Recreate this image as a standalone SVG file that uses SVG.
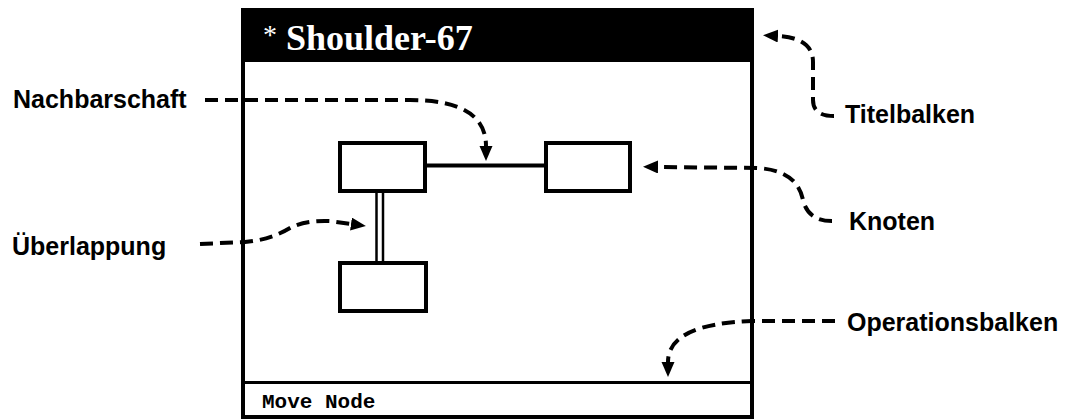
<svg xmlns="http://www.w3.org/2000/svg" width="1067" height="420" viewBox="0 0 1067 420">
  <style>
    .frame { fill: none; stroke: #000; stroke-width: 4; }
    .node rect { fill: #fff; stroke: #000; stroke-width: 4; }
    .edge { fill: none; stroke: #000; stroke-width: 4; }
    .edge-thin { fill: none; stroke: #000; stroke-width: 2.5; }
    .callout { fill: none; stroke: #000; stroke-width: 4; stroke-dasharray: 13 7; marker-end: url(#head); }
    .label { font-family: "Liberation Sans", Arial, sans-serif; font-weight: bold; font-size: 25px; fill: #000; }
    .title { font-family: "Liberation Serif", "Times New Roman", serif; font-weight: bold; font-size: 36px; fill: #fff; }
    .status { font-family: "Liberation Mono", "Courier New", monospace; font-size: 21px; font-weight: bold; fill: #000; }
  </style>
  <defs>
    <marker id="head" markerUnits="userSpaceOnUse" markerWidth="16" markerHeight="14" refX="0" refY="6.5" orient="auto">
      <path d="M0,0 L15,6.5 L0,13 Z" fill="#000"/>
    </marker>
  </defs>

  <rect width="1067" height="420" fill="#fff"/>

  <!-- editor window -->
  <g id="window">
    <rect class="frame" x="243" y="10" width="509" height="407"/>
    <rect id="titlebar" x="241" y="8" width="513" height="54" fill="#000"/>
    <text class="title" x="263" y="50"><tspan font-weight="normal" font-size="28" dy="-6">*</tspan><tspan dy="6"> Shoulder-67</tspan></text>
    <line id="opbar" x1="243" y1="382.5" x2="752" y2="382.5" stroke="#000" stroke-width="3"/>
    <text class="status" x="262" y="408">Move Node</text>
  </g>

  <!-- graph links inside the window -->
  <g id="links">
    <line class="edge" x1="427" y1="165.5" x2="544" y2="165.5"/>
    <line class="edge-thin" x1="376.5" y1="192" x2="376.5" y2="262"/>
    <line class="edge-thin" x1="383" y1="192" x2="383" y2="262"/>
  </g>

  <g id="node-a" class="node"><rect x="340" y="143" width="85" height="48"/></g>
  <g id="node-b" class="node"><rect x="546" y="143" width="84" height="48"/></g>
  <g id="node-c" class="node"><rect x="340" y="263" width="86" height="48"/></g>

  <!-- dashed callouts -->
  <g id="connectors">
    <path class="callout" d="M205 100 L410 100 Q486 100 486 146"/>
    <path class="callout" d="M834 116 Q813 116 813 100 L813 62 Q813 38 778 36"/>
    <path class="callout" d="M832 221 Q808 221 803 200 Q797 170 757 168 L658 167"/>
    <path class="callout" d="M200 244 L245 242 Q270 240 290 228 Q305 220 330 221 L351 224"/>
    <path class="callout" d="M835 321 L752 321 Q668 324 668 362"/>
  </g>

  <!-- callout labels -->
  <g id="labels">
    <text id="lbl-nachbarschaft" class="label" x="13" y="108">Nachbarschaft</text>
    <text id="lbl-ueberlappung" class="label" x="12" y="255">Überlappung</text>
    <text id="lbl-titelbalken" class="label" x="845" y="123">Titelbalken</text>
    <text id="lbl-knoten" class="label" x="849" y="230">Knoten</text>
    <text id="lbl-operationsbalken" class="label" x="847" y="331">Operationsbalken</text>
  </g>
</svg>
